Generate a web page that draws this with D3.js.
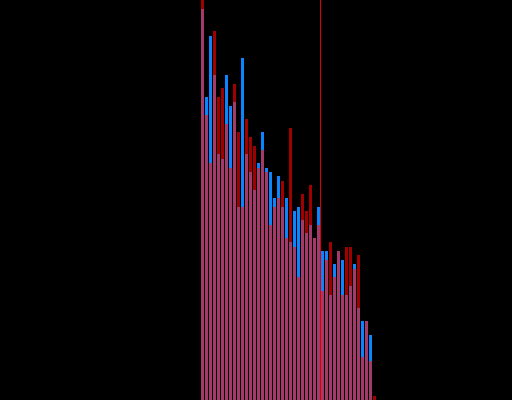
<!DOCTYPE html>
<html>
<head>
<meta charset="utf-8">
<script src="https://cdn.jsdelivr.net/npm/d3@7"></script>
<style>
  html, body { margin: 0; padding: 0; background: #000; }
  svg { display: block; }
</style>
</head>
<body>
<svg id="chart" width="512" height="400"></svg>
<script>
// Bin start positions (histogram bins)
const bins = d3.range(50, 94);
// Series A (dark red)
const seriesRed = [400,285,237,369,303,312,276,232,316,268,
                   193,281,263,254,232,250,228,175,193,202,
                   219,162,272,153,123,206,189,215,162,175,
                   109,140,158,123,149,105,153,153,131,145,
                   43,79,39,4];
// Series B (blue)
const seriesBlue = [391,303,364,325,246,241,325,294,298,193,
                    342,246,228,210,237,268,232,228,202,224,
                    193,202,158,189,193,180,167,175,162,193,
                    149,149,105,136,149,140,105,114,136,92,
                    79,79,65,0];
// Marker line position
const markerValue = [80];
const xDomain = [0, 128];

const W = 512, H = 400;
const svg = d3.select("#chart");
svg.append("rect").attr("width", W).attr("height", H).attr("fill", "#000");

const x = d3.scaleLinear().domain(xDomain).range([0, W]);
const y = d3.scaleLinear().domain([0, d3.max(seriesRed.concat(seriesBlue))]).range([H, 0]);

const data = bins.map((b, i) => ({ b, r: seriesRed[i], bl: seriesBlue[i] }));

function bars(cls, color, val) {
  svg.append("g").selectAll("rect").data(data).join("rect")
    .attr("class", cls)
    .attr("x", d => x(d.b) + 1)
    .attr("width", d => x(d.b + 1) - x(d.b) - 1)
    .attr("y", d => y(val(d)))
    .attr("height", d => H - y(val(d)))
    .attr("fill", color);
}
bars("red", "#a00000", d => d.r);
bars("blue", "#0a84ff", d => d.bl);
bars("overlap", "#a33a6a", d => Math.min(d.r, d.bl));

svg.append("g").selectAll("line").data(markerValue).join("line")
  .attr("x1", d => x(d) + 0.5).attr("x2", d => x(d) + 0.5)
  .attr("y1", 0).attr("y2", H)
  .attr("stroke", "#e00000").attr("stroke-width", 1);
</script>
</body>
</html>
